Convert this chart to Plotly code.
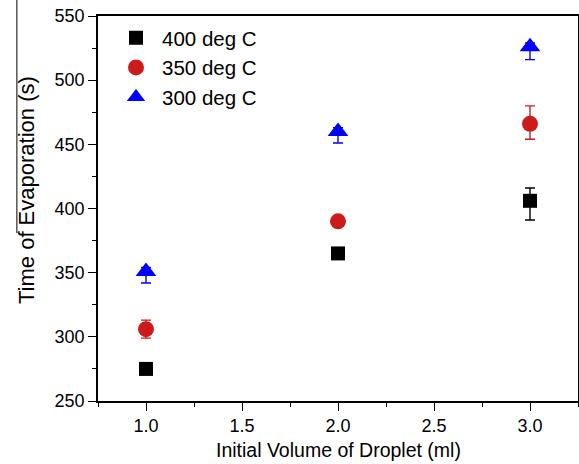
import plotly.graph_objects as go

volumes = [1.0, 2.0, 3.0]
t400 = [275, 365, 406]
e400_up = [3, 3, 10]
e400_dn = [3, 3, 15]
t350 = [306, 390, 466]
e350_up = [7, 3, 14]
e350_dn = [7, 3, 12]
t300 = [351, 460, 526]
e300_up = [3, 3, 3]
e300_dn = [9, 9, 10]

series = [
    ("400 deg C", t400, e400_up, e400_dn, "black", "square", 14),
    ("350 deg C", t350, e350_up, e350_dn, "#cc1b1b", "circle", 16),
    ("300 deg C", t300, e300_up, e300_dn, "#0000ff", "triangle-up", 18),
]

fig = go.Figure()
for name, y, eu, ed, c, sym, sz in series:
    fig.add_trace(go.Scatter(
        x=volumes, y=y, mode="markers", name=name,
        marker=dict(color=c, symbol=sym, size=sz, line=dict(width=0)),
        error_y=dict(type="data", symmetric=False, array=eu, arrayminus=ed,
                     visible=True, color=c, thickness=1.4, width=5),
    ))

font = "Liberation Sans, Arial, sans-serif"
axis_common = dict(showgrid=False, zeroline=False, showline=True, linecolor="black", linewidth=1.5,
                   mirror=True, ticks="outside", ticklen=8, tickwidth=1.4, tickcolor="black",
                   tickfont=dict(size=18), automargin=False)
fig.update_layout(
    width=579, height=464,
    margin=dict(l=98, r=1, t=16, b=63),
    paper_bgcolor="white", plot_bgcolor="white",
    font=dict(family=font, color="black"),
    showlegend=True,
    legend=dict(x=0.025, y=0.995, xanchor="left", yanchor="top",
                font=dict(size=20.5, family=font), bgcolor="rgba(0,0,0,0)",
                tracegroupgap=0, itemwidth=42),
    xaxis=dict(range=[0.75, 3.25], tickvals=[1.0, 1.5, 2.0, 2.5, 3.0],
               ticktext=["1.0", "1.5", "2.0", "2.5", "3.0"],
               minor=dict(ticks="outside", ticklen=4, tickwidth=1.4, tickcolor="black", dtick=0.25, showgrid=False),
               **axis_common),
    yaxis=dict(range=[250, 550], dtick=50,
               minor=dict(ticks="outside", ticklen=4, tickwidth=1.4, tickcolor="black", dtick=25, showgrid=False),
               **axis_common),
    annotations=[
        dict(text="Initial Volume of Droplet (ml)", xref="paper", yref="paper",
             x=0.5, y=-0.127, xanchor="center", yanchor="middle", showarrow=False,
             font=dict(size=19.5, family=font)),
        dict(text="Time of Evaporation (s)", xref="paper", yref="paper",
             x=-0.15, y=0.548, xanchor="center", yanchor="middle", showarrow=False,
             textangle=-90, font=dict(size=22, family=font)),
    ],
    shapes=[dict(type="line", xref="paper", yref="paper",
                 x0=-0.169, x1=-0.169, y0=1.0416, y1=0.436,
                 line=dict(color="black", width=1))],
)

fig.write_html("out.html", config={"displayModeBar": False},
               post_script="document.body.style.margin='0';document.body.style.padding='0';")
